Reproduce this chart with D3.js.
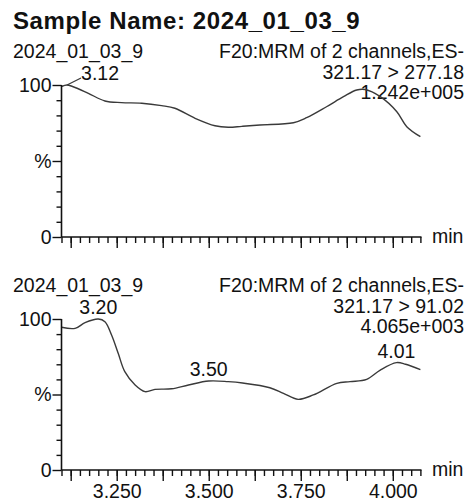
<!DOCTYPE html>
<html>
<head>
<meta charset="utf-8">
<script src="https://cdn.jsdelivr.net/npm/d3@7"></script>
<style>
  body { margin: 0; background: #fff; }
  svg { display: block; font-family: "Liberation Sans", Arial, sans-serif; }
  text { fill: #111; }
</style>
</head>
<body>
<svg id="chart" width="468" height="502"></svg>
<script>
// sample / channel info
var sampleName = "2024_01_03_9";
var channelTitle = "F20:MRM of 2 channels,ES-";
var transitions = ["321.17 > 277.18", "321.17 > 91.02"];
var intensities = ["1.242e+005", "4.065e+003"];

// trace 1 (321.17 > 277.18), time in min, relative intensity in %
var timesTop = [3.100, 3.115, 3.130, 3.173, 3.218, 3.263, 3.318, 3.372, 3.408, 3.463, 3.517, 3.553,
                3.590, 3.639, 3.730, 3.766, 3.820, 3.866, 3.902, 3.925, 3.966, 4.011, 4.038, 4.075];
var valuesTop = [99, 100, 99, 94.5, 89.5, 88.4, 88, 86.4, 84.7, 78.1, 73.2, 72.2,
                 72.8, 73.7, 75.2, 78.5, 85.7, 92.3, 96.7, 97, 92.3, 82.4, 72.6, 66];

// trace 2 (321.17 > 91.02)
var timesBottom = [3.100, 3.137, 3.164, 3.200, 3.218, 3.236, 3.254, 3.272, 3.300, 3.327, 3.354, 3.399,
                   3.445, 3.500, 3.553, 3.592, 3.666, 3.703, 3.743, 3.784, 3.848, 3.884, 3.929, 3.966,
                   4.010, 4.035, 4.075];
var valuesBottom = [94.5, 93.8, 97.6, 100, 98.2, 89.4, 77.3, 65.1, 56.3, 51.9, 53.4, 53.8,
                    56.3, 58.9, 58.5, 57.6, 54.5, 50.8, 46.8, 49.7, 57.4, 58.5, 60, 66.2,
                    71.1, 70, 66.5];

// labelled peaks
var peaksTop = [{t: 3.115, v: 100, label: "3.12", dx: 33, lead: true}];
var peaksBottom = [{t: 3.200, v: 100, label: "3.20", dx: 0},
                   {t: 3.500, v: 58.9, label: "3.50", dx: 0},
                   {t: 4.010, v: 71.1, label: "4.01", dx: 0}];

// axis ticks
var majorTicks = [3.125, 3.25, 3.375, 3.5, 3.625, 3.75, 3.875, 4.0];
var minorTicks = d3.range(0, 40).map(function(i) { return +(3.1 + i * 0.025).toFixed(3); });
var labelledTicks = [3.25, 3.5, 3.75, 4.0];
var yMajor = [0, 50, 100];
var yMajorLabels = ["0", "%", "100"];
var yMinor = [10, 20, 30, 40, 60, 70, 80, 90];

var svg = d3.select("#chart");
var fs = 19.5;

svg.append("text")
	.attr("x", 13)
	.attr("y", 29)
	.attr("font-size", 24)
	.attr("font-weight", "bold")
	.attr("letter-spacing", 0.6)
	.text("Sample Name: " + sampleName);

var x = d3.scaleLinear().domain([3.1, 4.078]).range([61.5, 421.5]);

function drawPanel(top, bottom, times, values, peaks, idx, showLabels) {
	var y = d3.scaleLinear().domain([0, 100]).range([bottom, top]);
	var g = svg.append("g");

	// header
	g.append("text")
		.attr("x", 13)
		.attr("y", top - 27)
		.attr("font-size", fs)
		.text(sampleName);

	var lines = [channelTitle, transitions[idx], intensities[idx]];
	lines.forEach(function(s, i) {
		g.append("text")
			.attr("x", 464)
			.attr("y", top - 27 + i * 20.5)
			.attr("font-size", fs)
			.attr("text-anchor", "end")
			.text(s);
	});

	// trace
	var line = d3.line()
		.x(function(d, i) { return x(times[i]); })
		.y(function(d) { return y(d); })
		.curve(d3.curveCatmullRom);

	g.append("path")
		.datum(values)
		.attr("d", line)
		.attr("fill", "none")
		.attr("stroke", "#3a3a3a")
		.attr("stroke-width", 1.4);

	// peak labels
	peaks.forEach(function(p) {
		var px = x(p.t), py = y(p.v);
		if (p.lead) {
			g.append("line")
				.attr("x1", px).attr("y1", py)
				.attr("x2", px + 14).attr("y2", py - 7)
				.attr("stroke", "#3a3a3a")
				.attr("stroke-width", 1.2);
		}
		g.append("text")
			.attr("x", px + p.dx)
			.attr("y", py - 5)
			.attr("font-size", fs)
			.attr("text-anchor", "middle")
			.text(p.label);
	});

	// y axis
	var yMin = g.append("g").attr("transform", "translate(" + x.range()[0] + ",0)")
		.call(d3.axisLeft(y).tickValues(yMinor).tickSize(5).tickFormat(""));
	var yMaj = g.append("g").attr("transform", "translate(" + x.range()[0] + ",0)")
		.call(d3.axisLeft(y).tickValues(yMajor).tickSize(9).tickPadding(1)
			.tickFormat(function(d, i) { return yMajorLabels[i]; }));

	// x axis
	var xMin = g.append("g").attr("transform", "translate(0," + bottom + ")")
		.call(d3.axisBottom(x).tickValues(minorTicks).tickSize(6).tickFormat(""));
	var xMaj = g.append("g").attr("transform", "translate(0," + bottom + ")")
		.call(d3.axisBottom(x).tickValues(majorTicks).tickSize(11).tickPadding(3)
			.tickFormat(function(d) {
				return showLabels && labelledTicks.indexOf(d) >= 0 ? d3.format(".3f")(d) : "";
			}));

	[yMin, yMaj, xMin, xMaj].forEach(function(a) {
		a.selectAll("path").attr("stroke", "#111").attr("stroke-width", 1.6);
		a.selectAll("line").attr("stroke", "#111").attr("stroke-width", 1.4);
		a.selectAll("text").attr("font-size", fs).attr("font-family", "Liberation Sans, Arial, sans-serif").attr("fill", "#111");
	});
	xMin.select(".domain").remove();
	yMin.select(".domain").remove();
	xMaj.select(".domain").attr("d", "M" + x.range()[0] + ",0H" + x.range()[1]);
	yMaj.select(".domain").attr("d", "M0," + top + "V" + bottom);

	g.append("text")
		.attr("x", 432)
		.attr("y", bottom + 6)
		.attr("font-size", fs)
		.text("min");
}

drawPanel(85, 237, timesTop, valuesTop, peaksTop, 0, false);
drawPanel(319, 470, timesBottom, valuesBottom, peaksBottom, 1, true);
</script>
</body>
</html>
